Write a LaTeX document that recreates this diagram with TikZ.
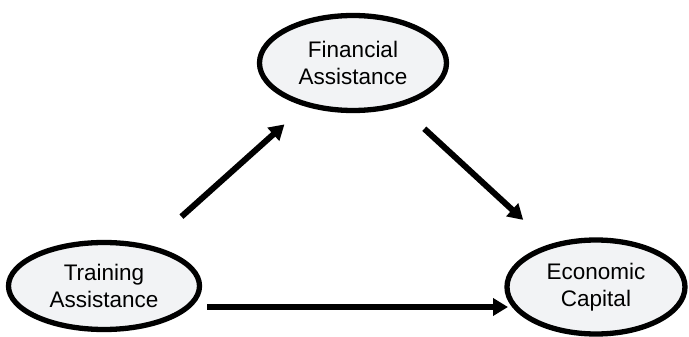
\documentclass[tikz,border=0pt]{standalone}
\usepackage{fontspec}
\setmainfont{Liberation Sans}
\usetikzlibrary{shapes.geometric,arrows.meta,calc}
\definecolor{ellfill}{HTML}{F2F3F5}
\tikzset{
  bubble/.style={ellipse, draw=black, line width=5.3pt, fill=ellfill, inner sep=0pt,
    align=center, font=\fontsize{22.5pt}{27pt}\selectfont},
  arr/.style={line width=6pt, -{Triangle[length=15pt,width=17pt]}}
}
\begin{document}
\begin{tikzpicture}[x=1pt,y=-1pt]
\useasboundingbox (0,0) rectangle (689,337);
\node[bubble, minimum width=187pt, minimum height=95pt] (fi) at (353,63) {Financial\\Assistance};
\node[bubble, minimum width=191pt, minimum height=87pt] (tr) at (104,286) {Training\\Assistance};
\node[bubble, minimum width=178pt, minimum height=94pt] (ec) at (596,287) {Economic\\Capital};
\draw[arr] ($(tr.center)!104pt!(fi.center)$) -- ($(fi.center)!92pt!(tr.center)$);
\draw[arr] ($(fi.center)!97pt!(ec.center)$) -- ($(ec.center)!99pt!(fi.center)$);
\coordinate (ta) at ($(tr.center)+(103pt,-21pt)$);
\coordinate (eb) at ($(ec.center)+(-88pt,-20pt)$);
\draw[arr] (ta) -- (ta -| eb);
\end{tikzpicture}
\end{document}
